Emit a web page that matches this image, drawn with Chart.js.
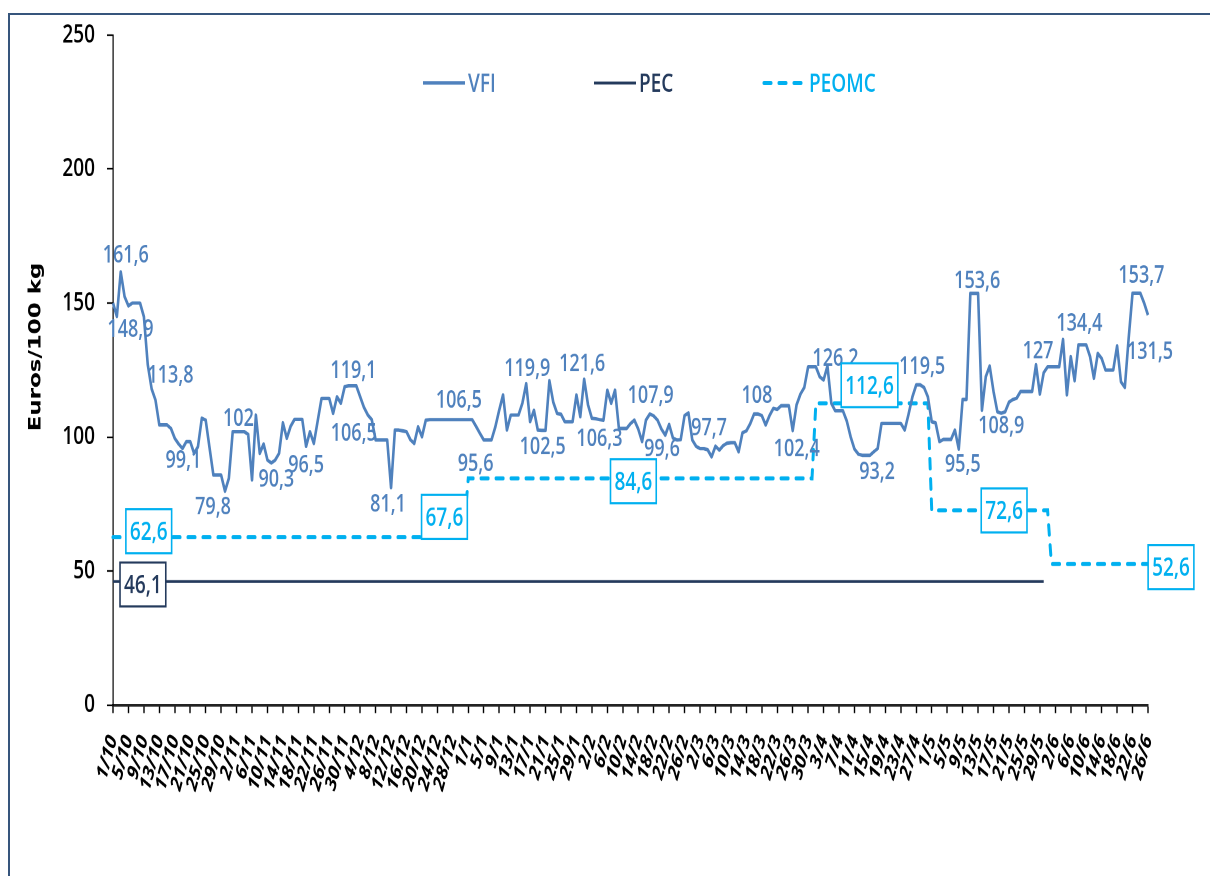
<!DOCTYPE html>
<html>
<head>
<meta charset="utf-8">
<script src="https://cdn.jsdelivr.net/npm/chart.js@4.4.0/dist/chart.umd.min.js"></script>
<style>
  html, body { margin: 0; padding: 0; background: #fff; }
  #wrap { position: relative; width: 1210px; height: 876px; overflow: hidden; }
  #frame { position: absolute; left: 8px; top: 13px; width: 1300px; height: 1000px;
           border: 2px solid #36557c; box-sizing: border-box; }
  #chart { position: absolute; left: 0; top: 0; }
</style>
</head>
<body>
<div id="wrap">
  <div id="frame"></div>
  <canvas id="chart"></canvas>
</div>
<script>
// the reference picture is stretched vertically, so the canvas is drawn short and stretched
const k = 1.35;
const H = Math.round(876 / k);

const monthNames = ["10", "11", "12", "1", "2", "3", "4", "5", "6"];
const monthLengths = [31, 30, 31, 31, 28, 31, 30, 31, 26];
const days = [];
monthNames.forEach((m, n) => {
  for (let d = 1; d <= monthLengths[n]; d++) days.push(d + "/" + m);
});

// VFI, one value per day from 1/10 to 26/6
const vfiValues = [
  150, 145, 161.6, 152.4, 148.9, 150, 150, 150, 144.9, 127,
  118, 113.8, 104.5, 104.5, 104.5, 103.2, 99.5, 97.4, 95.7, 98.3,
  98.3, 93.9, 96.4, 107, 106.3, 96, 85.8, 85.8, 85.8, 79.8,
  84.6, 102, 102, 102, 102, 101, 84, 108.2, 93.9, 97.4,
  91.4, 90.3, 91.4, 93.9, 105.3, 99.5, 104, 106.6, 106.6, 106.6,
  96.5, 102, 97.6, 106, 114.4, 114.4, 114.4, 108.8, 115, 112.6,
  118.8, 119.1, 119.1, 119.1, 115, 111, 108.2, 106.5, 98.9, 98.9,
  98.9, 98.9, 81.1, 102.6, 102.6, 102.3, 102, 99, 97.6, 103.8,
  100.1, 106.3, 106.5, 106.5, 106.5, 106.5, 106.5, 106.5, 106.5, 106.5,
  106.5, 106.5, 106.5, 106.5, 104, 101.4, 98.9, 98.9, 98.9, 103.8,
  110, 115.7, 102.6, 108.2, 108.2, 108.2, 112.6, 119.9, 105.7, 110,
  102.6, 102.5, 102.5, 121, 113, 108.8, 108.5, 105.7, 105.7, 105.7,
  115.7, 107.6, 121.6, 112, 107, 106.8, 106.5, 106.3, 117.5, 112.6,
  117.5, 103.2, 103.2, 103.2, 105, 106.3, 103, 98.3, 106.3, 108.6,
  107.9, 106.3, 103, 100.7, 104.7, 99.6, 98.9, 99, 108, 109,
  98.9, 96.5, 95.7, 95.7, 95.2, 92.6, 96.6, 95.1, 96.8, 97.7,
  97.9, 97.9, 94.5, 101.6, 102.3, 105, 108.6, 108.6, 108, 104.5,
  108, 110.7, 110.3, 111.7, 111.7, 111.7, 102.4, 112, 116, 118.5,
  126.2, 126.2, 126.2, 122.5, 121.3, 126.5, 112.6, 109.8, 109.8, 109.8,
  106, 100.1, 95.5, 93.6, 93.2, 93.2, 93.2, 94.5, 95.7, 105.1,
  105.1, 105.1, 105.1, 105.1, 105.1, 102.6, 108.5, 115, 119.5, 119.5,
  118.5, 115, 105.7, 105.3, 98.3, 99.1, 99.1, 99.1, 102.6, 95.5,
  114, 114, 153.6, 153.6, 153.6, 110, 122.5, 126.5, 117, 109.4,
  108.9, 109.4, 113, 114, 114.5, 117, 117, 117, 117, 127,
  116, 124, 126.2, 126.2, 126.2, 126.2, 136.4, 115.7, 130, 121,
  134.4, 134.4, 134.4, 130, 121.9, 131.2, 129.3, 125, 125, 125,
  134, 120.6, 118.5, 137, 153.7, 153.7, 153.7, 150, 145.5
];

const pecFrom = ["1/10"];
const pecTo = ["30/5"];
const pecValues = [46.1];

const peomcFrom = ["1/10", "31/12", "1/1", "1/4", "1/5", "1/6"];
const peomcTo = ["30/12", "31/12", "31/3", "30/4", "31/5", "26/6"];
const peomcValues = [62.6, 67.6, 84.6, 112.6, 72.6, 52.6];

const yTicks = [0, 50, 100, 150, 200, 250];

// data labels: which day carries a label and the text shown
const vfiLabelDays = ["3/10", "5/10", "12/10", "20/10", "30/10", "3/11", "11/11", "20/11",
  "2/12", "7/12", "12/12", "28/12", "6/1", "16/1", "20/1", "31/1", "5/2", "18/2", "23/2",
  "9/3", "17/3", "26/3", "4/4", "14/4", "28/4", "8/5", "12/5", "19/5", "28/5", "9/6", "23/6", "26/6"];
const vfiLabelText = ["161,6", "148,9", "113,8", "99,1", "79,8", "102", "90,3", "96,5",
  "119,1", "106,5", "81,1", "106,5", "95,6", "119,9", "102,5", "121,6", "106,3", "107,9", "99,6",
  "97,7", "108", "102,4", "126,2", "93,2", "119,5", "95,5", "153,6", "108,9", "127", "134,4", "153,7", "131,5"];
const peomcLabelDays = ["10/10", "31/12", "13/2", "18/4", "20/5", "26/6"];
const pecLabelDays = ["9/10"];

// placement of the labels relative to their point, in screen pixels
const vfiLabelShift = [[5, -16], [2, 24], [15, -24], [-3, 19], [-12, 16], [-2, -13], [5, 17], [0, 19],
  [1, -15], [-18, 14], [-3, 17], [6, -19], [-12, 24], [1, -15], [1, 17], [-2, -15], [-4, 19], [-3, -20], [-11, 11],
  [-18, -15], [-1, -18], [4, 19], [8, -7], [11, 17], [2, -18], [4, 16], [3, -12], [0, 13], [2, -13], [-3, -21], [5, -17], [2, 37]];
const peomcLabelShift = [[1, -6], [-20, -7], [-1, 3], [-12, -18], [-1, 0], [23, 3]];
const pecLabelShift = [[-1, 3]];

const VFI_COLOR = "#4f81bd";
const PEC_COLOR = "#243a5c";
const PEOMC_COLOR = "#00b0f0";

function levels(from, to, values) {
  const out = days.map(() => null);
  from.forEach((f, n) => {
    for (let i = days.indexOf(f); i <= days.indexOf(to[n]); i++) out[i] = values[n];
  });
  return out;
}

const comma = (v) => String(v).replace(".", ",");

const decorations = {
  id: "decorations",
  afterDatasetsDraw(chart) {
    const { ctx, scales: { x, y } } = chart;
    const data = chart.data.datasets;
    ctx.save();

    // plain VFI labels
    ctx.font = "600 18px 'Open Sans'";
    ctx.fillStyle = VFI_COLOR;
    ctx.textAlign = "center";
    ctx.textBaseline = "middle";
    vfiLabelDays.forEach((d, n) => {
      const i = days.indexOf(d);
      const px = x.getPixelForValue(i) + vfiLabelShift[n][0];
      const py = y.getPixelForValue(data[0].data[i]) + vfiLabelShift[n][1] / k;
      ctx.fillText(vfiLabelText[n], px, py);
    });

    // boxed labels
    const boxed = (labelDays, shifts, series, color) => {
      ctx.font = "600 19px 'Open Sans'";
      labelDays.forEach((d, n) => {
        const i = days.indexOf(d);
        const v = series[i];
        const txt = comma(v);
        const cx = x.getPixelForValue(i) + shifts[n][0];
        const cy = y.getPixelForValue(v) + shifts[n][1] / k;
        const w = ctx.measureText(txt).width + 8;
        const h = 44 / k;
        ctx.fillStyle = "#fff";
        ctx.fillRect(cx - w / 2, cy - h / 2, w, h);
        ctx.strokeStyle = color;
        ctx.lineWidth = 1.6;
        ctx.strokeRect(cx - w / 2, cy - h / 2, w, h);
        ctx.fillStyle = color;
        ctx.fillText(txt, cx, cy + 1);
      });
    };
    boxed(peomcLabelDays, peomcLabelShift, data[2].data, PEOMC_COLOR);
    boxed(pecLabelDays, pecLabelShift, data[1].data, PEC_COLOR);

    // legend
    const legendX = [421, 592, 762];
    const ly = 83 / k;
    data.forEach((ds, n) => {
      ctx.beginPath();
      ctx.strokeStyle = ds.borderColor;
      ctx.lineWidth = ds.borderWidth;
      ctx.lineCap = ds.borderDash ? "round" : "butt";
      ctx.setLineDash(ds.borderDash || []);
      ctx.moveTo(legendX[n] + 2, ly);
      ctx.lineTo(legendX[n] + 44, ly);
      ctx.stroke();
      ctx.setLineDash([]);
      ctx.font = "600 19px 'Open Sans'";
      ctx.textAlign = "left";
      ctx.fillStyle = ds.borderColor;
      ctx.fillText(ds.label, legendX[n] + 47, ly + 1);
    });

    // y axis title
    ctx.translate(36, 347 / k);
    ctx.rotate(-Math.PI / 2);
    ctx.font = "bold 17px 'DejaVu Sans'";
    ctx.fillStyle = "#000";
    ctx.textAlign = "center";
    ctx.fillText("Euros/100 kg", 0, 0);
    ctx.restore();
  }
};

const canvas = document.getElementById("chart");
canvas.width = 1210;
canvas.height = H;
canvas.style.width = "1210px";
canvas.style.height = "876px";

new Chart(canvas, {
  type: "line",
  data: {
    labels: days,
    datasets: [
      {
        label: "VFI",
        data: vfiValues,
        borderColor: VFI_COLOR,
        borderWidth: 2.6,
        pointRadius: 0,
        tension: 0,
        borderJoinStyle: "round"
      },
      {
        label: "PEC",
        data: levels(pecFrom, pecTo, pecValues),
        borderColor: PEC_COLOR,
        borderWidth: 2.2,
        pointRadius: 0,
        tension: 0
      },
      {
        label: "PEOMC",
        data: levels(peomcFrom, peomcTo, peomcValues),
        borderColor: PEOMC_COLOR,
        borderWidth: 3,
        borderDash: [7, 8],
        borderCapStyle: "round",
        pointRadius: 0,
        tension: 0
      }
    ]
  },
  options: {
    responsive: false,
    animation: false,
    devicePixelRatio: 2,
    layout: { padding: { left: 0, right: 62, top: 35 / k, bottom: 0 } },
    plugins: {
      legend: { display: false },
      tooltip: { enabled: false }
    },
    scales: {
      x: {
        ticks: {
          autoSkip: false,
          minRotation: 70,
          maxRotation: 70,
          padding: 14,
          color: "#000",
          font: { family: "'Open Sans'", size: 16, style: "italic", weight: "bold" },
          callback: (v, i) => (i % 4 === 0 ? days[i] : "")
        },
        grid: {
          drawOnChartArea: false,
          tickLength: 6,
          tickWidth: 1.4,
          tickColor: (c) => (c.index % 4 === 0 ? "#000" : "rgba(0,0,0,0)")
        },
        border: { color: "#222", width: 2 },
        afterFit: (s) => { s.height = (876 - 705) / k; }
      },
      y: {
        min: 0,
        max: 250,
        afterBuildTicks: (s) => { s.ticks = yTicks.map((v) => ({ value: v })); },
        ticks: {
          color: "#000",
          padding: 12,
          font: { family: "'Open Sans'", size: 19, weight: "600" }
        },
        grid: { drawOnChartArea: false, tickLength: 6, tickColor: "#000", tickWidth: 1.2 },
        border: { color: "#000", width: 1.2 },
        afterFit: (s) => { s.width = 113; }
      }
    }
  },
  plugins: [decorations]
});
</script>
</body>
</html>
